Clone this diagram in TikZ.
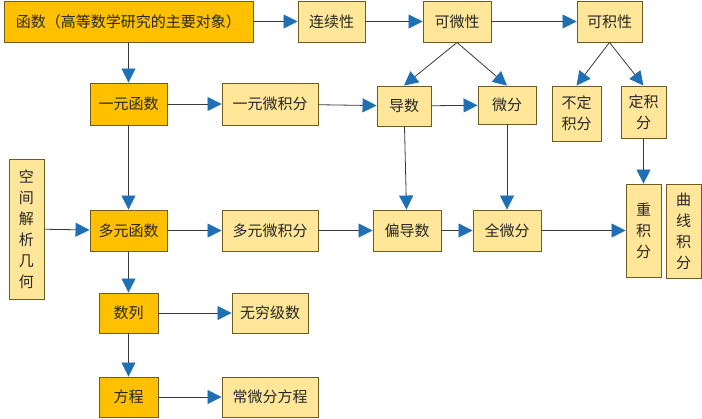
\documentclass[tikz,border=0pt]{standalone}
\usepackage{fontspec}
\usepackage{xcolor}
\usetikzlibrary{arrows.meta}
\newfontfamily\cjk{Noto Sans CJK SC}
\definecolor{mainc}{HTML}{FFC000}
\definecolor{subc}{HTML}{FFE699}
\definecolor{edgec}{HTML}{6E5B1F}
\definecolor{tipc}{HTML}{1F6FB4}
\definecolor{linec}{HTML}{3A3A3A}
\tikzset{
  topic/.style={draw=edgec, fill=mainc, line width=0.9pt, inner sep=0pt, align=center, text=black!85, font=\cjk\fontsize{15pt}{21pt}\selectfont},
  leaf/.style={topic, fill=subc},
  link/.style={draw=linec, line width=0.8pt, -{Triangle[length=14pt,width=14pt,color=tipc]}},
}

\begin{document}
\begin{tikzpicture}[x=1pt,y=-1pt]
\useasboundingbox (0,0) rectangle (702,418);
\node[topic, minimum width=249pt, minimum height=41pt] (fn) at (128.5,21.5) {函数（高等数学研究的主要对象）};
\node[leaf, minimum width=67pt, minimum height=41pt] (lxx) at (331.5,21.5) {连续性};
\node[leaf, minimum width=68pt, minimum height=41pt] (kwx) at (457,21.5) {可微性};
\node[leaf, minimum width=65pt, minimum height=41pt] (kjx) at (609.5,21.5) {可积性};
\node[topic, minimum width=77pt, minimum height=42pt] (yyhs) at (128.5,104) {一元函数};
\node[leaf, minimum width=96pt, minimum height=42pt] (yywj) at (270,104) {一元微积分};
\node[leaf, minimum width=54pt, minimum height=40pt] (ds) at (404,106) {导数};
\node[leaf, minimum width=58pt, minimum height=38pt] (wf) at (507,105) {微分};
\node[leaf, minimum width=49pt, minimum height=55pt] (bdjf) at (576.5,113.5) {不定\\积分};
\node[leaf, minimum width=45pt, minimum height=52pt] (djf) at (643.5,112) {定积\\分};
\node[leaf, minimum width=35pt, minimum height=140pt] (kjjx) at (26.5,229) {空\\间\\解\\析\\几\\何};
\node[topic, minimum width=77pt, minimum height=41pt] (dyhs) at (128.5,230.5) {多元函数};
\node[leaf, minimum width=96pt, minimum height=41pt] (dywj) at (270,230.5) {多元微积分};
\node[leaf, minimum width=68pt, minimum height=41pt] (pds) at (407,230.5) {偏导数};
\node[leaf, minimum width=68pt, minimum height=41pt] (qwf) at (507,230.5) {全微分};
\node[leaf, minimum width=35pt, minimum height=93pt] (cjf) at (643.5,230.5) {重\\积\\分};
\node[leaf, minimum width=35pt, minimum height=94pt] (qxjf) at (683.5,231) {曲\\线\\积\\分};
\node[topic, minimum width=59pt, minimum height=40pt] (sl) at (128.5,313) {数列};
\node[leaf, minimum width=76pt, minimum height=40pt] (wqjs) at (270,313) {无穷级数};
\node[topic, minimum width=59pt, minimum height=40pt] (fc) at (128.5,397) {方程};
\node[leaf, minimum width=96pt, minimum height=40pt] (cwff) at (270,397) {常微分方程};
\draw[link] (fn) -- (lxx);
\draw[link] (lxx) -- (kwx);
\draw[link] (kwx) -- (kjx);
\draw[link] (fn) -- (yyhs);
\draw[link] (kwx.south) -- (ds.north);
\draw[link] (kwx.south) -- (wf.north);
\draw[link] (kjx.south) -- (bdjf.north);
\draw[link] (kjx.south) -- (djf.north);
\draw[link] (yyhs) -- (yywj);
\draw[link] (yywj) -- (ds);
\draw[link] (ds) -- (wf);
\draw[link] (yyhs) -- (dyhs);
\draw[link] (kjjx) -- (dyhs);
\draw[link] (dyhs) -- (dywj);
\draw[link] (dywj) -- (pds);
\draw[link] (pds) -- (qwf);
\draw[link] (qwf) -- (cjf);
\draw[link] (ds) -- (pds);
\draw[link] (wf) -- (qwf);
\draw[link] (djf) -- (cjf);
\draw[link] (dyhs) -- (sl);
\draw[link] (sl) -- (wqjs);
\draw[link] (sl) -- (fc);
\draw[link] (fc) -- (cwff);
\end{tikzpicture}
\end{document}
